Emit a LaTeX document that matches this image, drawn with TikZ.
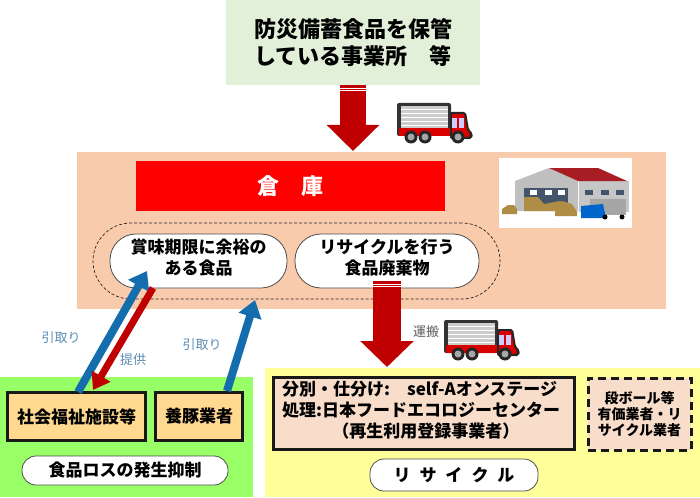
\documentclass[tikz,border=0pt]{standalone}
\usepackage{fontspec}
\setmainfont{Noto Sans CJK JP}
\usepackage{xcolor}
\definecolor{mTopGreen}{HTML}{E2F0D9}
\definecolor{mSalmon}{HTML}{F8CBAD}
\definecolor{mLime}{HTML}{99FF66}
\definecolor{mYellow}{HTML}{FFFF99}
\definecolor{mOrange}{HTML}{FFD98F}
\definecolor{mPale}{HTML}{F8DDCB}
\definecolor{mDarkRed}{HTML}{C00000}
\definecolor{mBlue}{HTML}{146EAE}
\definecolor{mLabel}{HTML}{5A8DB5}
\definecolor{mSlate}{HTML}{44546A}
\definecolor{mCarton}{HTML}{B08D45}
\definecolor{mRoof}{HTML}{A81C24}
\usetikzlibrary{calc, arrows.meta, positioning}
\tikzset{
	areabox/.style={inner sep=0pt, anchor=north west},
	facility/.style={draw=black!90, line width=3pt, fill=mOrange, inner sep=0pt, font=\fontsize{17}{20}\selectfont\bfseries},
	pillbox/.style={draw=black!70, thick, fill=white, rounded corners=14pt, inner sep=0pt, align=center, font=\fontsize{17}{21}\selectfont\bfseries},
	flowlabel/.style={inner sep=0pt, font=\fontsize{13}{15}\selectfont},
	redblock/.style={draw=mDarkRed, line width=26pt, -{Triangle[width=51pt,length=26pt]}},
	bluearrow/.style={draw=mBlue, line width=8pt, -{Triangle[width=23pt,length=17pt]}},
	redarrow/.style={draw=mDarkRed, line width=7pt, -{Triangle[width=21pt,length=16pt]}},
	truck/.pic={
		\fill[black!80, rounded corners=2pt] (0,0) rectangle (54,33);
		\fill[gray!40] (4,3) rectangle (51,25);
		\foreach \yy in {6,10,...,24}
			\draw[white, thin] (4,\yy) -- (51,\yy);
		\fill[red!85!black] (2,25) rectangle (54,33);
		\fill[black!85, rounded corners=2pt] (53,9) -- (69,9) -- (72,27) -- (76,30) -- (75,36) -- (53,36) -- cycle;
		\fill[red!85!black, rounded corners=1pt] (55,11) -- (67,11) -- (70,27) -- (73,31) -- (72,34) -- (55,34) -- cycle;
		\fill[blue!20] (55,15) rectangle (60,25);
		\fill[blue!20] (62,15) rectangle (67,25);
		\foreach \xx in {14,28,61}{
			\fill[black!85] (\xx,34) circle (6.5);
			\fill[gray!70] (\xx,34) circle (3.5);
		}
	}
}

\begin{document}
\begin{tikzpicture}[x=1pt,y=-1pt]
		\useasboundingbox (0,0) rectangle (700,497);
		%-------------------------------------------------------------------------------
		% areas
		%-------------------------------------------------------------------------------
		\node[areabox, fill=mTopGreen, minimum width=254pt, minimum height=85pt, align=center, font=\fontsize{22}{27}\selectfont\bfseries] (office)
			at (226,0) {防災備蓄食品を保管\\している事業所　等};
		\node[areabox, fill=mSalmon, minimum width=589pt, minimum height=157pt] (storage)
			at (77,152) {};
		\node[areabox, fill=mLime, minimum width=253pt, minimum height=120pt] (reduce)
			at (0,377) {};
		\node[areabox, fill=mYellow, minimum width=435pt, minimum height=129pt] (recycle)
			at (265,368) {};
		
		% warehouse
		\node[areabox, fill=red, minimum width=309pt, minimum height=50pt] (soko)
			at (136,161) {};
		\node[text=white, inner sep=0pt, font=\fontsize{22}{24}\selectfont\bfseries] (sokotext) at (soko.center) {倉　庫};
		\node[areabox, fill=white, minimum width=133pt, minimum height=70pt] (photo)
			at (499,158) {};
		\node[draw=black!85, line width=0.7pt, dash pattern=on 3pt off 2pt, rounded corners=38pt, minimum width=407pt, minimum height=76pt] (group)
			at (296.5,261) {};
		\node[pillbox, rounded corners=26pt, minimum width=177pt, minimum height=54pt, text depth=9pt] (surplus)
			at (198.5,261) {賞味期限に余裕の\\ある食品};
		\node[pillbox, rounded corners=26pt, minimum width=184pt, minimum height=54pt, text depth=9pt] (waste)
			at (387,261) {リサイクルを行う\\食品廃棄物};
		
		% warehouse picture
		\fill[gray!50] (515,181) -- (549,168) -- (578,181) -- (578,211) -- (515,211) -- cycle;
		\fill[gray!45] (579,181) rectangle (629,212);
		\fill[mRoof] (549,168) -- (598,168) -- (627,181) -- (578,181) -- cycle;
		\fill[mSlate] (524,188) rectangle (568,211);
		\foreach \xx in {530,545,558}
			\fill[white] (\xx,190) rectangle +(7,5);
		\foreach \xx in {585,601,616}
			\fill[mSlate] (\xx,190) rectangle +(8,5);
		\fill[mCarton] (524,197) -- (538,197) -- (544,204) -- (560,201) -- (568,208) -- (568,211) -- (524,211) -- cycle;
		\fill[mCarton] (502,209) -- (508,205) -- (514,205) -- (517,209) -- (517,214) -- (502,214) -- cycle;
		\fill[mCarton] (555,207) -- (562,201) -- (572,204) -- (577,212) -- (577,216) -- (555,216) -- cycle;
		\fill[gray!70] (590,199) rectangle (626,215);
		\fill[blue!50!cyan!80!black] (581,206) -- (603,204) -- (606,218) -- (581,218) -- cycle;
		\fill[black] (605,217) circle (2.5);
		\fill[black] (622,217) circle (2.5);
		
		% facilities
		\node[facility, minimum width=138pt, minimum height=48pt] (welfare)
			at (76.5,416.5) {社会福祉施設等};
		\node[facility, minimum width=87pt, minimum height=48pt] (pigfarm)
			at (199,416.5) {養豚業者};
		\node[pillbox, minimum width=206pt, minimum height=29pt] (reducelabel)
			at (125,470.5) {食品ロスの発生抑制};
		\node[draw=black!90, line width=3pt, fill=mPale, minimum width=301pt, minimum height=72pt, inner sep=0pt] (center)
			at (424,413.5) {};
		\node[anchor=north west, inner sep=0pt, align=left, font=\fontsize{17}{21}\selectfont\bfseries] (centertext)
			at (282,381) {分別・仕分け:　self-Aオンステージ\\処理:日本フードエコロジーセンター\\\hspace*{2.95em}（再生利用登録事業者）};
		\node[draw=black!90, line width=3pt, dash pattern=on 8pt off 5pt, fill=mPale, minimum width=103pt, minimum height=72pt, inner sep=0pt, align=center, font=\fontsize{14}{16}\selectfont\bfseries] (dealer)
			at (639.5,414) {段ボール等\\有価業者・リ\\サイクル業者};
		\node[pillbox, minimum width=168pt, minimum height=32pt] (recyclelabel)
			at (454,475) {リ\hspace{9pt}サ\hspace{9pt}イ\hspace{9pt}ク\hspace{9pt}ル};
		
		% free ends
		\coordinate (o1) at (353,85);
		\coordinate (s1) at (353,151);
		\coordinate (w1) at (387,281);
		\coordinate (r1) at (387,367);
		\coordinate (bluefrom) at (78,392);
		\coordinate (blueto) at (147,271);
		\coordinate (redfrom) at (153,288);
		\coordinate (redto) at (93,390);
		\coordinate (pigfrom) at (227,391);
		\coordinate (pigto) at (255,300);
		
		% flows
		\draw[redblock] (o1) -- (s1);
		\draw[white, thick] (340,88) -- (366,88);
		\draw[white, thick] (340,90.5) -- (366,90.5);
		\draw[redblock, line width=28pt, -{Triangle[width=52pt,length=26pt]}] (w1) -- (r1);
		\draw[white, thick] (373,284) -- (401,284);
		\draw[white, thick] (373,286.5) -- (401,286.5);
		\draw[bluearrow] (bluefrom) -- (blueto);
		\draw[redarrow] (redfrom) -- (redto);
		\draw[bluearrow] (pigfrom) -- (pigto);
		
		% trucks
		\pic at (397,103) {truck};
		\pic at (444,320) {truck};
		
		% labels
		\node[flowlabel, text=mLabel] (pick1) at (61,338) {引取り};
		\node[flowlabel, text=mLabel] (pick2) at (202,345) {引取り};
		\node[flowlabel, text=mLabel] (give) at (133,360) {提供};
		\node[flowlabel, text=black!65] (carry) at (426,332) {運搬};
		\end{tikzpicture}
\end{document}
